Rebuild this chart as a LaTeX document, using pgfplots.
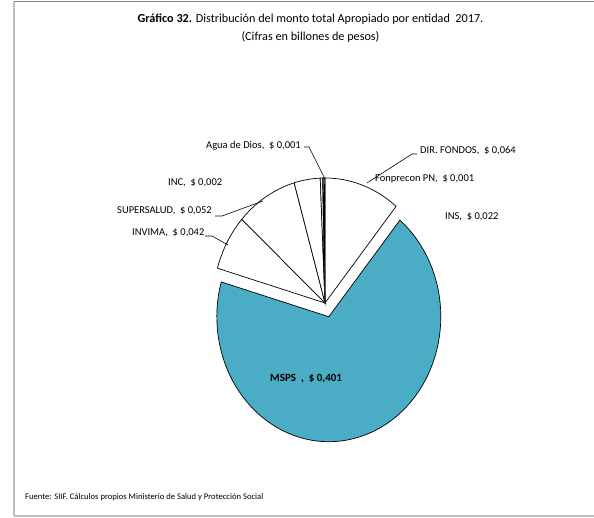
\documentclass[border=0pt]{standalone}
\usepackage{pgfplots}
\pgfplotsset{compat=1.18}
\usepackage{pgfplotstable}
\usepackage{fontspec}
\setmainfont{Carlito}

\definecolor{msps}{RGB}{75,172,198}
\definecolor{frameA}{RGB}{128,128,128}
\definecolor{frameB}{RGB}{190,190,190}

% slices clockwise from 12 o'clock (billones de pesos)
\pgfplotstableread{
value  explode  color
0.064  0        white
0.401  0.115    msps
0.042  0        white
0.052  0        white
0.022  0        white
0.002  0        white
0.001  0        white
0.001  0        white
}\piedata

\newcommand\lab{\fontsize{10.5}{12}\selectfont}

\begin{document}
\begin{tikzpicture}
\begin{axis}[
    width=594pt, height=518pt, scale only axis,
    xmin=0, xmax=594, ymin=0, ymax=518,
    hide axis, clip=false,
  ]
  % total of values
  \def\total{0}
  \pgfplotsforeachungrouped \i in {0,...,7}{
    \pgfplotstablegetelem{\i}{value}\of\piedata
    \pgfmathsetmacro\total{\total+\pgfplotsretval}
    \xdef\total{\total}
  }
  \xdef\astart{90}
  \pgfplotsforeachungrouped \i in {0,...,7}{
    \pgfplotstablegetelem{\i}{value}\of\piedata \let\v\pgfplotsretval
    \pgfplotstablegetelem{\i}{explode}\of\piedata \let\ex\pgfplotsretval
    \pgfplotstablegetelem{\i}{color}\of\piedata \let\col\pgfplotsretval
    \pgfmathsetmacro\aend{\astart-360*\v/\total}
    \pgfmathsetmacro\amid{(\astart+\aend)/2}
    \pgfmathsetmacro\cx{325+\ex*112*cos(\amid)}
    \pgfmathsetmacro\cy{215+\ex*125*sin(\amid)}
    \edef\slice{\noexpand\addplot[draw=black, line width=0.7pt, fill=\col,
        domain=\aend:\astart, samples=80, variable=\noexpand\t]
      ({\cx+112*cos(\noexpand\t)}, {\cy+125*sin(\noexpand\t)})
      -- (axis cs:\cx,\cy) -- cycle;}
    \slice
    \xdef\astart{\aend}
  }

  % frame
  \addplot[frameB, line width=1.5pt] coordinates {(14,2) (14,516)};
  \addplot[frameA, line width=1pt] coordinates {(14,516) (594,516)};
  \addplot[frameB, line width=1.2pt] coordinates {(14,2) (594,2)};

  % leader lines
  \addplot[black, line width=0.6pt] coordinates {(304,371) (309,371) (325,339)};
  \addplot[black, line width=0.6pt] coordinates {(215,302) (222,302) (263,317)};
  \addplot[black, line width=0.6pt] coordinates {(205,282) (212,282) (228,273)};
  \addplot[black, line width=0.6pt] coordinates {(417,364) (412,364) (367,335)};

  % data labels
  \node[anchor=west, inner sep=0pt] at (axis cs:206,372) {\lab Agua de Dios,~ \$ 0,001};
  \node[anchor=west, inner sep=0pt] at (axis cs:168,335) {\lab INC,~ \$ 0,002};
  \node[anchor=west, inner sep=0pt] at (axis cs:117,307) {\lab SUPERSALUD,~ \$ 0,052};
  \node[anchor=west, inner sep=0pt] at (axis cs:132,285) {\lab INVIMA,~ \$ 0,042};
  \node[anchor=west, inner sep=0pt] at (axis cs:420,367) {\lab DIR. FONDOS,~ \$ 0,064};
  \node[anchor=west, inner sep=0pt] at (axis cs:375,339) {\lab Fonprecon PN,~ \$ 0,001};
  \node[anchor=west, inner sep=0pt] at (axis cs:445,301) {\lab INS,~ \$ 0,022};
  \node[anchor=west, inner sep=0pt] at (axis cs:270,139) {\fontsize{11}{12}\selectfont\bfseries MSPS~ ,~ \$ 0,401};

  % title and source
  \node[inner sep=0pt] at (axis cs:310.5,499) {\fontsize{12.2}{14}\selectfont\textbf{Gráfico 32.} Distribución del monto total Apropiado por entidad~ 2017.};
  \node[inner sep=0pt] at (axis cs:310.5,481) {\fontsize{12.2}{14}\selectfont(Cifras en billones de pesos)};
  \node[anchor=west, inner sep=0pt] at (axis cs:25,21) {\fontsize{8.6}{10}\selectfont Fuente: SIIF. Cálculos propios Ministerio de Salud y Protección Social};
\end{axis}
\pgfresetboundingbox
\path (0,0) rectangle (594pt,518pt);
\end{tikzpicture}
\end{document}
